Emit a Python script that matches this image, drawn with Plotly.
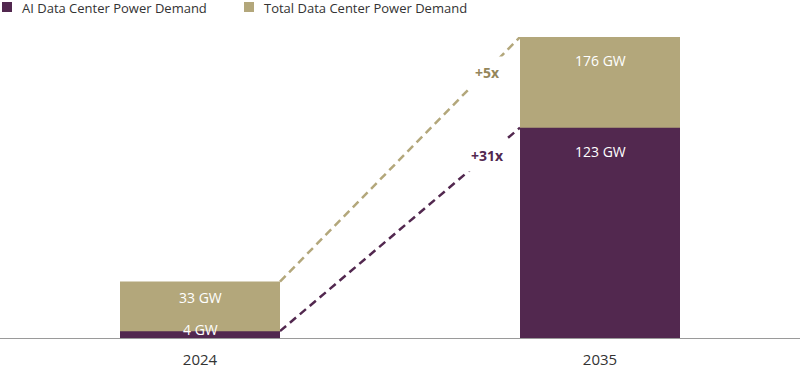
import plotly.graph_objects as go

years = ["2024", "2035"]
ai_demand = [4, 123]
total_demand = [33, 176]
growth_labels = ["+31x", "+5x"]
series_names = ["AI Data Center Power Demand", "Total Data Center Power Demand"]

PURPLE = "#52284F"
TAN = "#B3A77B"
FONT = "Open Sans"

fig = go.Figure()
fig.add_trace(go.Bar(x=years, y=total_demand, name=series_names[1],
                     marker=dict(color=TAN, line=dict(width=0)), width=0.4, hoverinfo="skip",
                     showlegend=False))
fig.add_trace(go.Bar(x=years, y=ai_demand, name=series_names[0],
                     marker=dict(color=PURPLE, line=dict(width=0)), width=0.4, hoverinfo="skip",
                     showlegend=False))

# dashed growth connectors from bar edge to bar edge
for series, color in [(total_demand, TAN), (ai_demand, PURPLE)]:
    fig.add_shape(type="line", xref="x", yref="y", x0=0.2, x1=0.8, y0=series[0], y1=series[1],
                  line=dict(color=color, width=2.5, dash="8px,5px"), layer="below")

# value labels
shifts_total = [-16, -23]
shifts_ai = [2, -24]
for i, yr in enumerate(years):
    fig.add_annotation(x=i, y=total_demand[i], text=f"{total_demand[i]} GW", showarrow=False,
                       yshift=shifts_total[i], font=dict(color="white", size=14, family=FONT))
    fig.add_annotation(x=i, y=ai_demand[i], text=f"{ai_demand[i]} GW", showarrow=False,
                       yshift=shifts_ai[i], font=dict(color="white", size=14, family=FONT))

# growth labels (white box interrupts dashed line)
fig.add_annotation(x=0.7175, y=106.5, text=f"<b>{growth_labels[0]}</b>", showarrow=False,
                   bgcolor="white", borderpad=6,
                   font=dict(color=PURPLE, size=14, family=FONT))
fig.add_annotation(x=0.7175, y=155.5, text=f"<b>{growth_labels[1]}</b>", showarrow=False,
                   bgcolor="white", borderpad=6,
                   font=dict(color="#94865A", size=14, family=FONT))

# legend (drawn in container pixels)
legend_items = [(series_names[0], PURPLE, 2), (series_names[1], TAN, 244)]
for name, color, px in legend_items:
    fig.add_shape(type="rect", xref="paper", yref="paper",
                  x0=px / 800, x1=(px + 10) / 800,
                  y0=(338 - 2) / 301, y1=(338 - 12) / 301,
                  fillcolor=color, line=dict(width=0))
    fig.add_annotation(xref="paper", yref="paper", x=(px + 18) / 800, y=(338 - 8) / 301,
                       xanchor="left", yanchor="middle", text=name, showarrow=False,
                       font=dict(size=13, color="#333333", family=FONT))

fig.update_layout(
    width=800, height=375,
    barmode="overlay",
    plot_bgcolor="white", paper_bgcolor="white",
    margin=dict(l=0, r=0, t=37, b=37, autoexpand=False),
    font=dict(family=FONT, color="#333333", size=14),
    showlegend=False,
    xaxis=dict(type="category", range=[-0.5, 1.5], showgrid=False, showline=True,
               linecolor="#9a9a9a", linewidth=1, ticklabelstandoff=8,
               ticks="", tickfont=dict(size=15, color="#333333"), fixedrange=True),
    yaxis=dict(range=[0, 176], visible=False, showgrid=False, zeroline=False, fixedrange=True),
)

fig.write_html("out.html", config={"displayModeBar": False},
               post_script="document.body.style.margin='0';")
